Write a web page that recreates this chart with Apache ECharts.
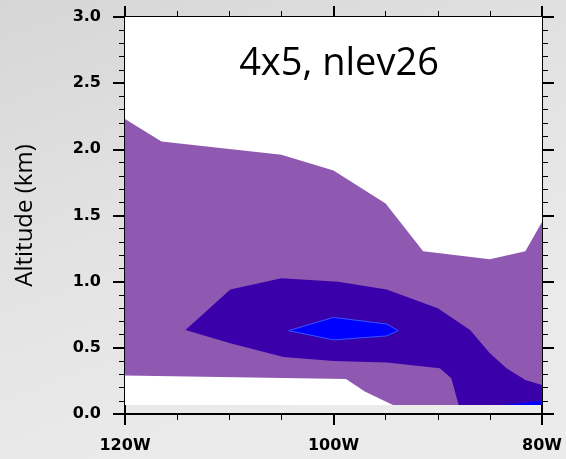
<!DOCTYPE html>
<html>
<head>
<meta charset="utf-8">
<script src="https://cdn.jsdelivr.net/npm/echarts@6/dist/echarts.min.js"></script>
<style>html,body{margin:0;padding:0;}#c{width:566px;height:459px;}</style>
</head>
<body>
<div id="c"></div>
<script>
// Longitudes are negative (degrees east), altitude in km
var xTicks = [-120, -100, -80];
var yTicks = [0, 0.5, 1.0, 1.5, 2.0, 2.5, 3.0];

// region with data (above lowest level)
var dataDomain = [[-120, 0.068], [-80, 0.068], [-80, 3.0], [-120, 3.0]];

// contour level 1 (light purple)
var purpleTop = [[-120, 2.23], [-116.5, 2.06], [-105, 1.96], [-100, 1.84], [-95, 1.59],
                 [-91.4, 1.23], [-85, 1.17], [-81.6, 1.23], [-80, 1.45]];
var purpleBottom = [[-80, 0.068], [-94.3, 0.068], [-94.6, 0.08], [-97, 0.17],
                    [-98.8, 0.265], [-120, 0.29]];

// contour level 2 (indigo)
var indigo = [[-114.2, 0.635], [-109.9, 0.94], [-105.0, 1.025], [-99.55, 1.0], [-94.9, 0.94],
              [-90.0, 0.80], [-86.9, 0.635], [-85.0, 0.46], [-83.4, 0.345], [-81.6, 0.257],
              [-80, 0.22], [-80, 0.068], [-88.0, 0.068], [-88.7, 0.27], [-89.8, 0.345],
              [-94.9, 0.39], [-100, 0.40], [-104.8, 0.43], [-109.9, 0.535]];

// contour level 3 (blue)
var blueCore = [[-104.3, 0.63], [-100, 0.73], [-94.9, 0.68], [-93.8, 0.63], [-94.9, 0.59], [-100, 0.56]];
var blueSliver = [[-83.8, 0.068], [-80, 0.10], [-80, 0.068]];

var purpleRegion = purpleTop.concat(purpleBottom);

function polySeries(points, fill, stroke, z) {
  return {
    type: 'custom',
    coordinateSystem: 'cartesian2d',
    xAxisIndex: 0, yAxisIndex: 0,
    clip: true,
    silent: true,
    z: z,
    data: [0],
    renderItem: function (params, api) {
      return {
        type: 'polygon',
        shape: { points: points.map(function (p) { return api.coord(p); }) },
        style: { fill: fill, stroke: stroke || null, lineWidth: stroke ? 1 : 0 }
      };
    }
  };
}

var chart = echarts.init(document.getElementById('c'), null, { renderer: 'canvas' });
var labelFont = { fontFamily: 'DejaVu Sans', fontWeight: 'bold', fontSize: 16, color: '#000' };
var axisLine = { show: true, onZero: false, lineStyle: { color: '#000', width: 2 } };

chart.setOption({
  backgroundColor: {
    type: 'linear', x: 0, y: 0, x2: 0.3, y2: 1,
    colorStops: [{ offset: 0, color: '#d6d6d6' }, { offset: 0.5, color: '#e2e2e2' }, { offset: 1, color: '#ebebeb' }]
  },
  animation: false,
  title: {
    text: '4x5, nlev26',
    left: 334, top: 40, textAlign: 'center',
    textStyle: { fontFamily: 'Open Sans', fontWeight: 'normal', fontSize: 38, color: '#000' }
  },
  grid: { left: 125, right: 24, top: 17, bottom: 45, show: false },
  xAxis: [{
    type: 'value', min: -120, max: -80, interval: 20, position: 'bottom',
    axisLine: axisLine,
    axisTick: { show: true, length: 11, lineStyle: { width: 2, color: '#000' } },
    minorTick: { show: true, splitNumber: 4, length: 6, lineStyle: { width: 1, color: '#000' } },
    splitLine: { show: false },
    axisLabel: Object.assign({ margin: 24, formatter: function (v) { return Math.abs(v) + 'W'; } }, labelFont)
  }, {
    type: 'value', min: -120, max: -80, interval: 20, position: 'top',
    axisLine: axisLine,
    axisTick: { show: true, length: 11, lineStyle: { width: 2, color: '#000' } },
    minorTick: { show: true, splitNumber: 4, length: 6, lineStyle: { width: 1, color: '#000' } },
    splitLine: { show: false }, axisLabel: { show: false }
  }],
  yAxis: [{
    type: 'value', min: 0, max: 3, interval: 0.5, position: 'left',
    name: 'Altitude (km)', nameLocation: 'middle', nameGap: 88, nameRotate: 90,
    nameTextStyle: { fontFamily: 'Open Sans', fontSize: 24, color: '#000' },
    axisLine: axisLine,
    axisTick: { show: true, length: 12, lineStyle: { width: 2, color: '#000' } },
    minorTick: { show: true, splitNumber: 5, length: 6, lineStyle: { width: 1, color: '#000' } },
    splitLine: { show: false },
    axisLabel: Object.assign({ margin: 24, formatter: function (v) { return v.toFixed(1); } }, labelFont)
  }, {
    type: 'value', min: 0, max: 3, interval: 0.5, position: 'right',
    axisLine: axisLine,
    axisTick: { show: true, length: 12, lineStyle: { width: 2, color: '#000' } },
    minorTick: { show: true, splitNumber: 5, length: 6, lineStyle: { width: 1, color: '#000' } },
    splitLine: { show: false }, axisLabel: { show: false }
  }],
  series: [
    polySeries(dataDomain, '#ffffff', null, 1),
    polySeries(purpleRegion, '#8f59b2', null, 2),
    polySeries(indigo, '#3a00aa', null, 3),
    polySeries(blueCore, '#0000ff', '#3355ff', 4),
    polySeries(blueSliver, '#0000ff', null, 4)
  ]
});
</script>
</body>
</html>
